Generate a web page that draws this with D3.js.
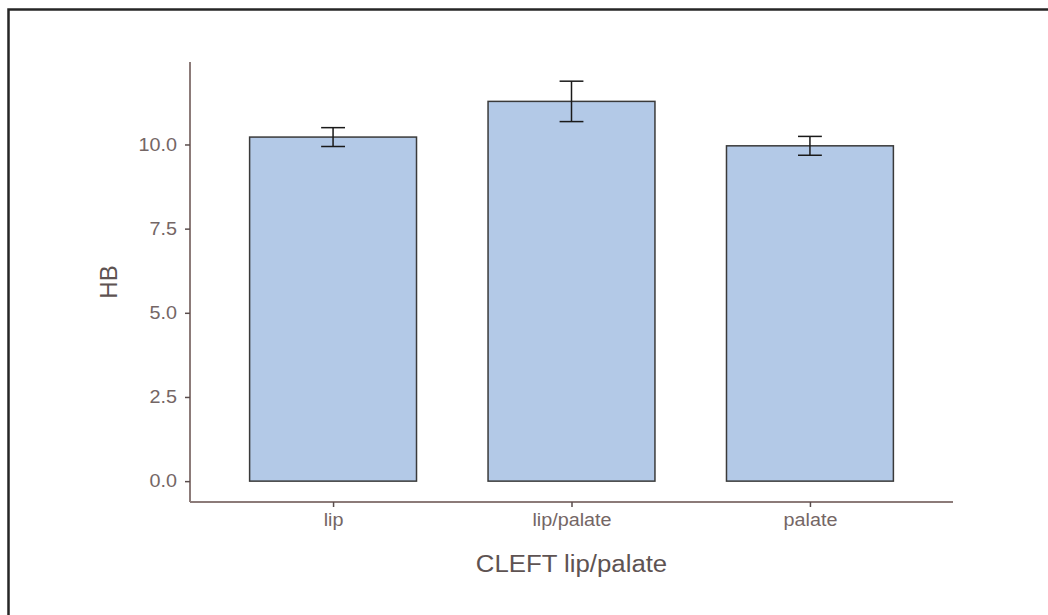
<!DOCTYPE html>
<html>
<head>
<meta charset="utf-8">
<script src="https://cdn.jsdelivr.net/npm/d3@7"></script>
<style>
  body { margin: 0; background: #fff; }
  text { font-family: "Liberation Sans", Arial, sans-serif; }
</style>
</head>
<body>
<div id="theChart"></div>
<script>
const categories = ["lip", "lip/palate", "palate"]
const means = [10.22, 11.28, 9.96]
const errors = [0.28, 0.6, 0.28]
const yTicks = [0, 2.5, 5, 7.5, 10]

const w = 1048
const h = 615
const plotL = 190, plotR = 953, plotT = 62, plotB = 502

const svg = d3.select("#theChart")
	.append("svg")
	.attr("width", w)
	.attr("height", h)

// frame around the figure (only top and left are visible)
svg.append("rect")
	.attr("x", 8.5)
	.attr("y", 9.5)
	.attr("width", w + 20)
	.attr("height", h + 20)
	.attr("fill", "none")
	.attr("stroke", "#262626")
	.attr("stroke-width", 2.5)

const x = d3.scalePoint().domain(categories).range([plotL, plotR]).padding(0.6)
const y = d3.scaleLinear().domain([-0.62, 12.45]).range([plotB, plotT])
const barW = x.step() * 0.7
const capW = x.step() * 0.1

const data = categories.map((c, i) => ({ cat: c, mean: means[i], err: errors[i] }))

svg.selectAll("rect.bar")
	.data(data)
	.enter()
	.append("rect")
	.attr("class", "bar")
	.attr("x", d => x(d.cat) - barW / 2)
	.attr("width", barW)
	.attr("y", d => y(d.mean))
	.attr("height", d => y(0) - y(d.mean))
	.attr("fill", "#b3c9e7")
	.attr("stroke", "#3a3a3a")
	.attr("stroke-width", 1.5)

// error bars
const eb = svg.selectAll("g.err")
	.data(data)
	.enter()
	.append("g")
	.attr("class", "err")
	.attr("stroke", "#1a1a1a")
	.attr("stroke-width", 1.5)

eb.append("line")
	.attr("x1", d => x(d.cat)).attr("x2", d => x(d.cat))
	.attr("y1", d => y(d.mean + d.err)).attr("y2", d => y(d.mean - d.err))
eb.append("line")
	.attr("x1", d => x(d.cat) - capW / 2).attr("x2", d => x(d.cat) + capW / 2)
	.attr("y1", d => y(d.mean + d.err)).attr("y2", d => y(d.mean + d.err))
eb.append("line")
	.attr("x1", d => x(d.cat) - capW / 2).attr("x2", d => x(d.cat) + capW / 2)
	.attr("y1", d => y(d.mean - d.err)).attr("y2", d => y(d.mean - d.err))

const axisColor = "#8c7b79"
const labelColor = "#746665"

const yAxis = d3.axisLeft(y)
	.tickValues(yTicks)
	.tickFormat(d3.format(".1f"))
	.tickSize(5)
	.tickPadding(8)

const gy = svg.append("g")
	.attr("transform", `translate(${plotL},0)`)
	.call(yAxis)
gy.select(".domain").attr("d", `M0,${plotT}V${plotB}`)

const xAxis = d3.axisBottom(x).tickSize(5).tickPadding(7)
const gx = svg.append("g")
	.attr("transform", `translate(0,${plotB})`)
	.call(xAxis)
gx.select(".domain").attr("d", `M${plotL},0H${plotR}`)

svg.selectAll(".domain")
	.attr("stroke", axisColor)
	.attr("stroke-width", 2)
svg.selectAll(".tick line")
	.attr("stroke", "#5a4d4c")
	.attr("stroke-width", 1.5)
svg.selectAll(".tick text")
	.attr("fill", labelColor)
	.style("font-size", "17.5px")

// the reference text looks a bit wider than the font, so stretch it slightly
function widen(sel, f) {
	sel.each(function () {
		const len = this.getComputedTextLength()
		d3.select(this)
			.attr("textLength", len * f)
			.attr("lengthAdjust", "spacingAndGlyphs")
	})
}
widen(svg.selectAll(".tick text"), 1.13)

// axis titles
const xt = svg.append("text")
	.attr("x", (plotL + plotR) / 2)
	.attr("y", 572)
	.attr("text-anchor", "middle")
	.attr("fill", "#5e5352")
	.style("font-size", "23px")
	.text("CLEFT lip/palate")
widen(xt, 1.12)

svg.append("text")
	.attr("transform", `translate(117,${(plotT + plotB) / 2}) rotate(-90)`)
	.attr("text-anchor", "middle")
	.attr("fill", "#5e5352")
	.style("font-size", "24px")
	.text("HB")
</script>
</body>
</html>
